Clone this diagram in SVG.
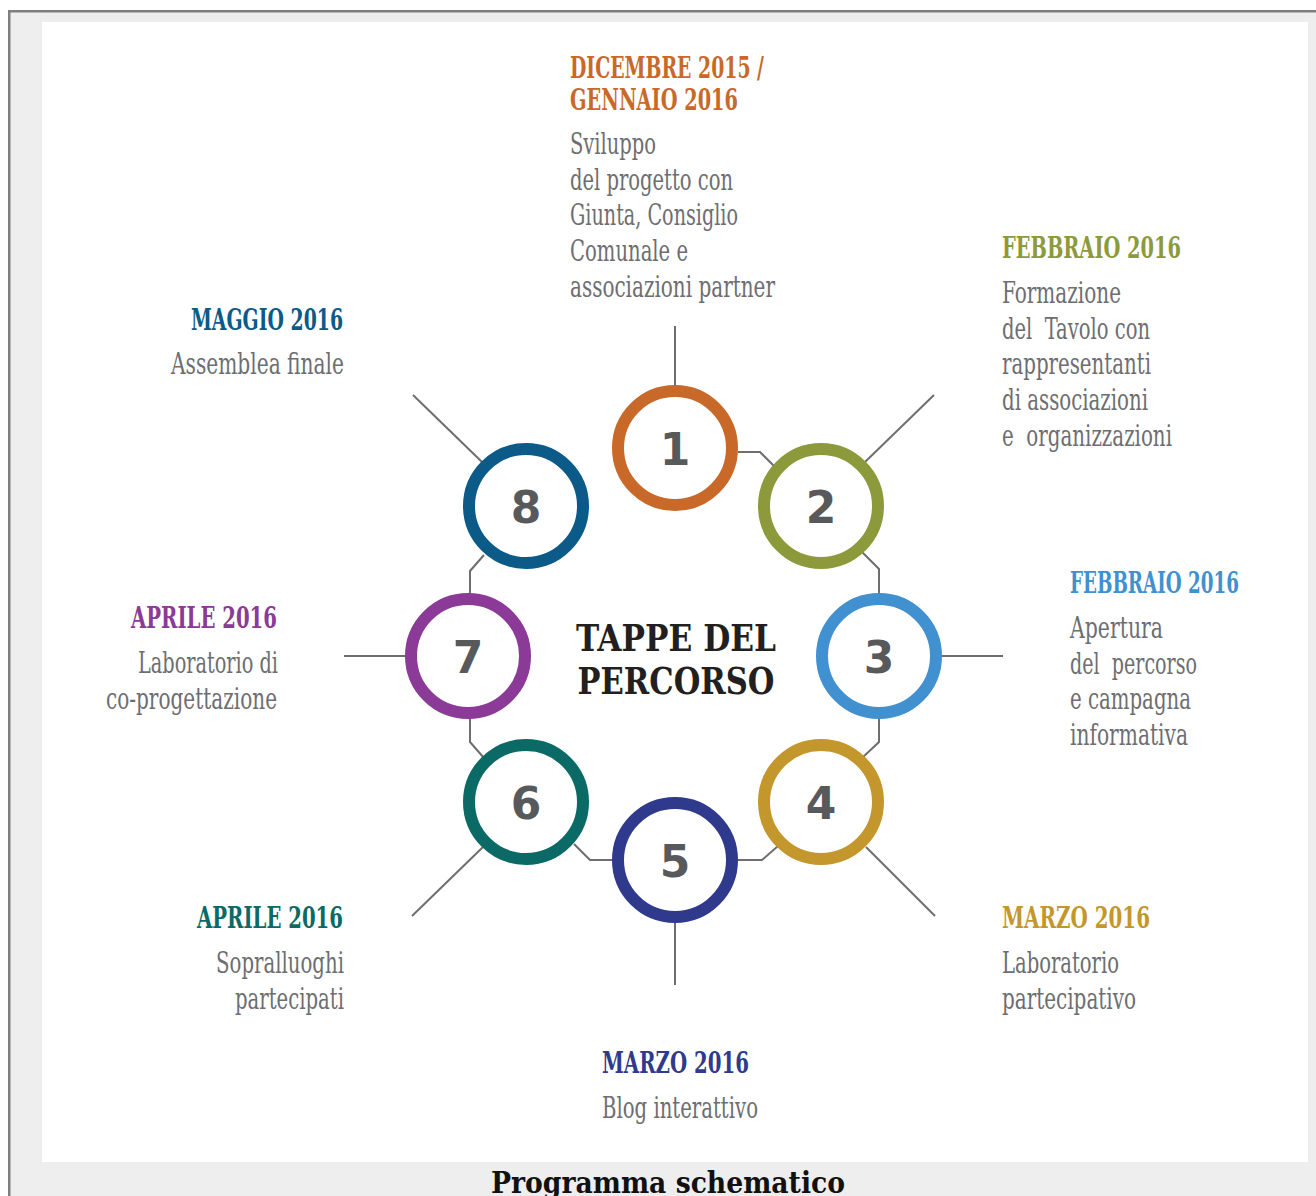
<svg xmlns="http://www.w3.org/2000/svg" width="1316" height="1196" viewBox="0 0 1316 1196">
<style>
.bg{fill:#eeeeee}
.panel{fill:#ffffff}
.frame{fill:none;stroke:#7f7f7f;stroke-width:2.5}
.conn{fill:none;stroke:#6e6e6e;stroke-width:2}
.ring{fill:#ffffff;stroke-width:12}
.num{font-family:"DejaVu Sans","Liberation Sans",sans-serif;font-weight:bold;font-size:44px;fill:#58595b;text-anchor:middle}
.hd{font-family:"DejaVu Serif Condensed","DejaVu Serif",serif;font-weight:bold;font-size:30px}
.bd{font-family:"DejaVu Serif Condensed","DejaVu Serif",serif;font-size:30px;fill:#6d6e71}
.end{text-anchor:end}
.center{font-family:"DejaVu Serif Condensed","DejaVu Serif",serif;font-weight:bold;font-size:37px;fill:#231f20;text-anchor:middle}
.cap{font-family:"DejaVu Serif","Liberation Serif",serif;font-weight:bold;font-size:30px;fill:#111111}
</style>
<rect class="bg" x="0" y="0" width="1316" height="1196"/>
<rect x="0" y="0" width="1316" height="10" fill="#ffffff"/>
<rect x="0" y="0" width="8" height="1196" fill="#ffffff"/>
<path class="frame" d="M9.25,1196 V11.25 H1316"/>
<rect class="panel" x="42" y="22" width="1266" height="1140"/>

<g id="connectors">
<path class="conn" d="M738,452 H760 L776,468"/>
<path class="conn" d="M862,552 L879,569 V600"/>
<path class="conn" d="M879,712 V742 L862,758"/>
<path class="conn" d="M778,846 L762,860 H735"/>
<path class="conn" d="M615,860 H590 L574,844"/>
<path class="conn" d="M484,758 L470,742 V712"/>
<path class="conn" d="M470,600 V571 L484,555"/>
<path class="conn" d="M675,326 V390"/>
<path class="conn" d="M865,462 L934,395"/>
<path class="conn" d="M938,656 H1003"/>
<path class="conn" d="M866,847 L935,916"/>
<path class="conn" d="M675,920 V985"/>
<path class="conn" d="M483,847 L412,916"/>
<path class="conn" d="M344,656 H410"/>
<path class="conn" d="M413,395 L482,462"/>
</g>

<g id="center">
<text class="center" x="676" y="651" textLength="200" lengthAdjust="spacingAndGlyphs">TAPPE DEL</text>
<text class="center" x="676" y="694" textLength="197" lengthAdjust="spacingAndGlyphs">PERCORSO</text>
</g>

<g id="node1">
<circle class="ring" cx="675" cy="448" r="57" stroke="#c8692a"/>
<text class="num" x="675" y="465">1</text>
<text class="hd" x="570" y="78" fill="#c8692a" textLength="194" lengthAdjust="spacingAndGlyphs">DICEMBRE 2015 /</text>
<text class="hd" x="570" y="110" fill="#c8692a" textLength="168" lengthAdjust="spacingAndGlyphs">GENNAIO 2016</text>
<text class="bd" x="570" y="154" textLength="86" lengthAdjust="spacingAndGlyphs">Sviluppo</text>
<text class="bd" x="570" y="190" textLength="163" lengthAdjust="spacingAndGlyphs">del progetto con</text>
<text class="bd" x="570" y="225" textLength="168" lengthAdjust="spacingAndGlyphs">Giunta, Consiglio</text>
<text class="bd" x="570" y="261" textLength="118" lengthAdjust="spacingAndGlyphs">Comunale e</text>
<text class="bd" x="570" y="297" textLength="205" lengthAdjust="spacingAndGlyphs">associazioni partner</text>
</g>

<g id="node2">
<circle class="ring" cx="821" cy="506" r="57" stroke="#8d9a3b"/>
<text class="num" x="821" y="523">2</text>
<text class="hd" x="1002" y="258" fill="#8d9a3b" textLength="179" lengthAdjust="spacingAndGlyphs">FEBBRAIO 2016</text>
<text class="bd" x="1002" y="303" textLength="119" lengthAdjust="spacingAndGlyphs">Formazione</text>
<text class="bd" x="1002" y="339" textLength="148" lengthAdjust="spacingAndGlyphs" xml:space="preserve">del  Tavolo con</text>
<text class="bd" x="1002" y="374" textLength="149" lengthAdjust="spacingAndGlyphs">rappresentanti</text>
<text class="bd" x="1002" y="410" textLength="146" lengthAdjust="spacingAndGlyphs">di associazioni</text>
<text class="bd" x="1002" y="446" textLength="170" lengthAdjust="spacingAndGlyphs" xml:space="preserve">e  organizzazioni</text>
</g>

<g id="node3">
<circle class="ring" cx="879" cy="656" r="57" stroke="#4190d0"/>
<text class="num" x="879" y="673">3</text>
<text class="hd" x="1070" y="593" fill="#4190d0" textLength="169" lengthAdjust="spacingAndGlyphs">FEBBRAIO 2016</text>
<text class="bd" x="1070" y="638" textLength="93" lengthAdjust="spacingAndGlyphs">Apertura</text>
<text class="bd" x="1070" y="674" textLength="127" lengthAdjust="spacingAndGlyphs" xml:space="preserve">del  percorso</text>
<text class="bd" x="1070" y="709" textLength="121" lengthAdjust="spacingAndGlyphs">e campagna</text>
<text class="bd" x="1070" y="745" textLength="118" lengthAdjust="spacingAndGlyphs">informativa</text>
</g>

<g id="node4">
<circle class="ring" cx="821" cy="802" r="57" stroke="#c4972c"/>
<text class="num" x="821" y="819">4</text>
<text class="hd" x="1002" y="928" fill="#c4972c" textLength="148" lengthAdjust="spacingAndGlyphs">MARZO 2016</text>
<text class="bd" x="1002" y="973" textLength="117" lengthAdjust="spacingAndGlyphs">Laboratorio</text>
<text class="bd" x="1002" y="1009" textLength="134" lengthAdjust="spacingAndGlyphs">partecipativo</text>
</g>

<g id="node5">
<circle class="ring" cx="675" cy="860" r="57" stroke="#2f3a8d"/>
<text class="num" x="675" y="877">5</text>
<text class="hd" x="602" y="1073" fill="#2f3a8d" textLength="147" lengthAdjust="spacingAndGlyphs">MARZO 2016</text>
<text class="bd" x="602" y="1118" textLength="156" lengthAdjust="spacingAndGlyphs">Blog interattivo</text>
</g>

<g id="node6">
<circle class="ring" cx="526" cy="802" r="57" stroke="#0b6a66"/>
<text class="num" x="526" y="819">6</text>
<text class="hd end" x="343" y="928" fill="#0b6a66" textLength="146" lengthAdjust="spacingAndGlyphs">APRILE 2016</text>
<text class="bd end" x="344" y="973" textLength="128" lengthAdjust="spacingAndGlyphs">Sopralluoghi</text>
<text class="bd end" x="344" y="1009" textLength="109" lengthAdjust="spacingAndGlyphs">partecipati</text>
</g>

<g id="node7">
<circle class="ring" cx="468" cy="656" r="57" stroke="#8b3a97"/>
<text class="num" x="468" y="673">7</text>
<text class="hd end" x="277" y="628" fill="#8b3a97" textLength="146" lengthAdjust="spacingAndGlyphs">APRILE 2016</text>
<text class="bd end" x="278" y="673" textLength="140" lengthAdjust="spacingAndGlyphs">Laboratorio di</text>
<text class="bd end" x="277" y="709" textLength="171" lengthAdjust="spacingAndGlyphs">co-progettazione</text>
</g>

<g id="node8">
<circle class="ring" cx="526" cy="506" r="57" stroke="#0b5a88"/>
<text class="num" x="526" y="523">8</text>
<text class="hd end" x="343" y="330" fill="#0b5a88" textLength="152" lengthAdjust="spacingAndGlyphs">MAGGIO 2016</text>
<text class="bd end" x="344" y="374" textLength="173" lengthAdjust="spacingAndGlyphs">Assemblea finale</text>
</g>

<text class="cap" x="491" y="1193" textLength="354" lengthAdjust="spacingAndGlyphs">Programma schematico</text>
</svg>
